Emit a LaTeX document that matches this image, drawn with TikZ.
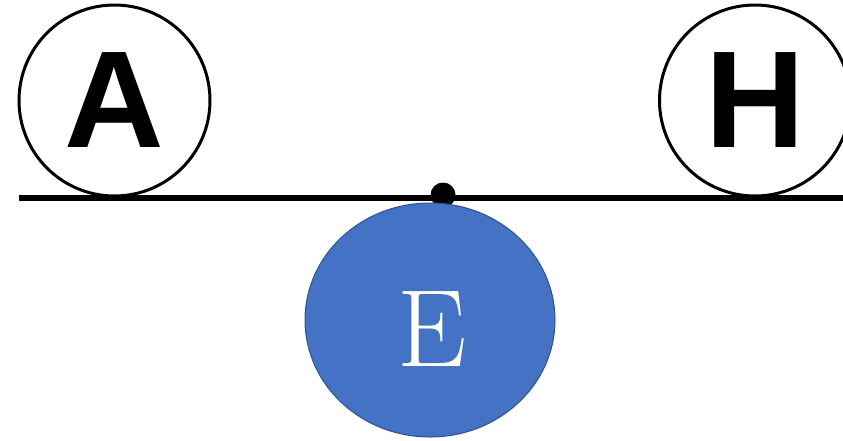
\documentclass[tikz,border=0pt]{standalone}
\usepackage{fontspec}
\usepackage{tikz}
\usetikzlibrary{shapes.geometric}
\usetikzlibrary{positioning}
\newfontfamily\arialbold{Liberation Sans}[BoldFont={* Bold}]
\definecolor{eblue}{HTML}{4472C4}
\definecolor{eborder}{HTML}{2F528F}
\tikzstyle{ball}=[circle,draw=black,fill=white,line width=3pt,minimum size=191pt,inner sep=0pt,font=\arialbold\bfseries\fontsize{138}{138}\selectfont]
\tikzstyle{pivot}=[circle,fill=black,inner sep=0pt,minimum size=25pt]
\tikzstyle{eball}=[ellipse,draw=eborder,fill=eblue,line width=1pt,minimum width=250pt,minimum height=234pt,inner sep=0pt]
\tikzstyle{elabel}=[text=white,inner sep=0pt,font=\fontsize{110}{110}\selectfont]

\begin{document}
\begin{tikzpicture}
[x=1pt,y=-1pt]
 \useasboundingbox (0,0) rectangle (843,440);
 \coordinate (lbeam) at (19,198);
 \coordinate (rbeam) at (843,198);
 \draw[line width=6.5pt] (lbeam) -- (rbeam);
 \node[pivot] (p) at (443,195) {};
 \node[ball] (a) at (114.5,100.5) {A};
 \node[ball] (h) at (755,100.5) {H};
 \node[eball] (e) at (430,320) {};
 \node[elabel] (et) at (432,329) {E};
\end{tikzpicture}
\end{document}
